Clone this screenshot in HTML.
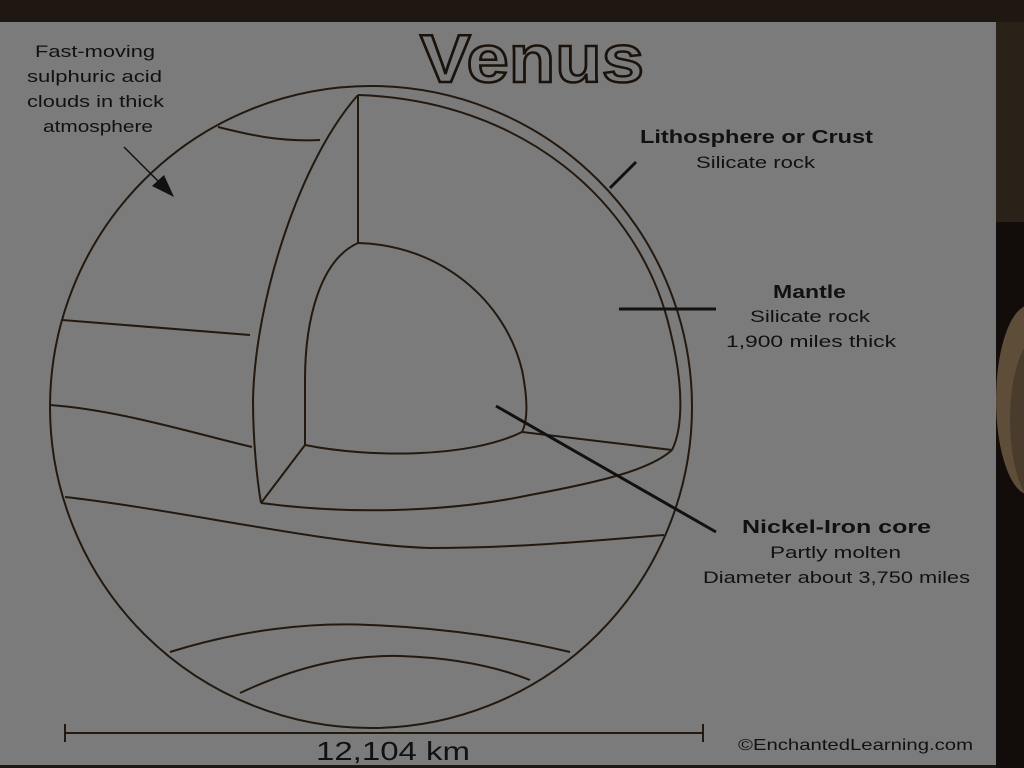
<!DOCTYPE html>
<html><head><meta charset="utf-8"><style>
html,body{margin:0;padding:0;width:1024px;height:768px;overflow:hidden;background:#1e1712;}
svg{display:block}
text{font-family:"Liberation Sans",sans-serif;fill:#111;}
</style></head><body>
<svg width="1024" height="768" viewBox="0 0 1024 768">
<rect x="0" y="0" width="1024" height="768" fill="#1e1712"/>
<rect x="996" y="22" width="28" height="200" fill="#2a2119"/>
<rect x="996" y="222" width="28" height="546" fill="#120d0a"/>
<ellipse cx="1030" cy="400" rx="34" ry="95" fill="#5e4d39"/>
<ellipse cx="1040" cy="420" rx="30" ry="85" fill="#4a3c2c"/>
<rect x="0" y="22" width="996" height="743" fill="#7b7b7b"/>
<g fill="none" stroke="#24190f" stroke-width="2">
<circle cx="371" cy="407" r="321"/>
<path d="M358,95 C520,100 640,200 670,330 C685,390 682,430 672,450"/>
<path d="M358,95 V243"/>
<path d="M358,95 C300,160 255,300 253,400 C253,440 257,480 261,503"/>
<path d="M358,243 C320,260 305,320 305,380 V445"/>
<path d="M358,243 C440,245 505,300 522,370 C528,400 528,420 522,432"/>
<path d="M305,445 C370,458 470,458 522,432"/>
<path d="M305,445 L261,503"/>
<path d="M522,432 L672,450"/>
<path d="M261,503 C350,515 450,512 530,495 C600,482 650,470 672,450"/>
<path d="M218,127 C250,135 280,142 320,140"/>
<path d="M62,320 L250,335"/>
<path d="M50,405 C120,410 200,435 252,447"/>
<path d="M65,497 C180,510 330,545 430,548 C520,548 600,540 664,535"/>
<path d="M170,652 C240,630 310,622 370,625 C450,628 520,640 570,652"/>
<path d="M240,693 C300,665 350,655 400,656 C460,658 500,668 530,680"/>
<path d="M65,733 H703 M65,724 V742 M703,724 V742"/>
</g>
<g stroke="#111" stroke-width="3" fill="none">
<path d="M610,188 L636,162"/>
<path d="M619,309 H716"/>
<path d="M496,406 L716,532"/>
</g>
<path d="M124,147 L165,188" stroke="#111" stroke-width="1.5"/>
<path d="M152,186 L174,197 L164,175 Z" fill="#111"/>
<text x="420" y="82" textLength="224" lengthAdjust="spacingAndGlyphs" font-size="68" font-weight="bold" style="fill:none;stroke:#1a120b;stroke-width:2.5">Venus</text>
<g font-size="17">
<text x="35" y="57" textLength="120" lengthAdjust="spacingAndGlyphs">Fast-moving</text>
<text x="27" y="82" textLength="135" lengthAdjust="spacingAndGlyphs">sulphuric acid</text>
<text x="27" y="107" textLength="137" lengthAdjust="spacingAndGlyphs">clouds in thick</text>
<text x="43" y="132" textLength="110" lengthAdjust="spacingAndGlyphs">atmosphere</text>
<text x="640" y="143" font-weight="bold" font-size="18" textLength="233" lengthAdjust="spacingAndGlyphs">Lithosphere or Crust</text>
<text x="696" y="168" textLength="119" lengthAdjust="spacingAndGlyphs">Silicate rock</text>
<text x="773" y="298" font-weight="bold" font-size="18" textLength="73" lengthAdjust="spacingAndGlyphs">Mantle</text>
<text x="750" y="322" textLength="120" lengthAdjust="spacingAndGlyphs">Silicate rock</text>
<text x="726" y="347" textLength="170" lengthAdjust="spacingAndGlyphs">1,900 miles thick</text>
<text x="742" y="533" font-weight="bold" font-size="18" textLength="189" lengthAdjust="spacingAndGlyphs">Nickel-Iron core</text>
<text x="770" y="558" textLength="131" lengthAdjust="spacingAndGlyphs">Partly molten</text>
<text x="703" y="583" textLength="267" lengthAdjust="spacingAndGlyphs">Diameter about 3,750 miles</text>
<text x="316" y="760" font-size="26" textLength="154" lengthAdjust="spacingAndGlyphs">12,104 km</text>
<text x="738" y="750" font-size="16" textLength="235" lengthAdjust="spacingAndGlyphs">©EnchantedLearning.com</text>
</g>
</svg>
</body></html>
